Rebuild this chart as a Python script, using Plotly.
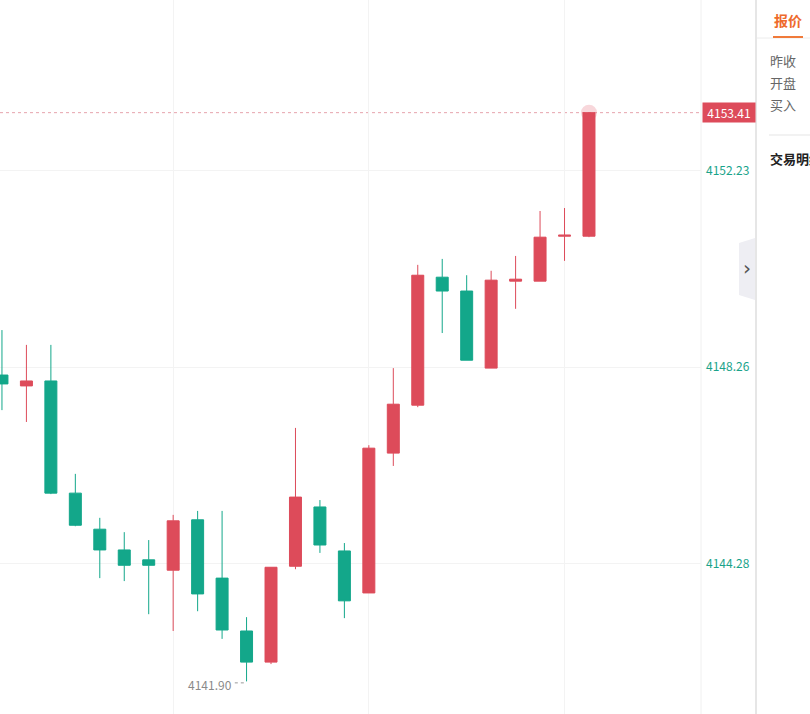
import plotly.graph_objects as go

# ---- data ----
idx = list(range(25))
opens = [4148.10, 4147.88, 4147.98, 4145.71, 4144.98, 4144.56, 4144.36, 4144.15, 4145.17, 4143.99,
         4142.92, 4142.29, 4144.23, 4145.43, 4144.54, 4143.69, 4146.52, 4147.49, 4150.08, 4149.80,
         4148.24, 4150.00, 4150.00, 4150.91, 4150.91]
highs = [4149.01, 4148.71, 4148.71, 4146.10, 4145.21, 4144.92, 4144.76, 4145.27, 4145.35, 4145.35,
         4143.20, 4144.21, 4147.03, 4145.57, 4144.70, 4146.68, 4148.24, 4150.33, 4150.45, 4150.12,
         4150.21, 4150.51, 4151.42, 4151.48, 4153.41]
lows = [4147.39, 4147.15, 4145.69, 4145.04, 4143.99, 4143.93, 4143.26, 4142.92, 4143.32, 4142.76,
        4141.90, 4142.25, 4144.17, 4144.50, 4143.18, 4143.69, 4146.26, 4147.45, 4148.95, 4148.40,
        4148.24, 4149.44, 4150.00, 4150.41, 4150.89]
closes = [4147.92, 4147.98, 4145.71, 4145.06, 4144.56, 4144.25, 4144.25, 4145.15, 4143.67, 4142.94,
          4142.29, 4144.21, 4145.63, 4144.66, 4143.53, 4146.62, 4147.51, 4150.12, 4149.80, 4148.40,
          4150.02, 4150.04, 4150.89, 4150.93, 4153.41]
tick_vals = [4144.28, 4148.26, 4152.23]
tick_text = ["4144.28", "4148.26", "4152.23"]
last_price = 4153.41
low_price = 4141.90
low_idx = 10
grid_x = [7, 15, 23]
panel_tab = "报价"
panel_rows = ["昨收", "开盘", "买入"]
panel_section = "交易明细"

RED = "#dd4b5a"
GREEN = "#13a78a"
TEAL = "#1aa38a"

W, H = 810, 714
PLOT_R = 701


def px(x):
    return x / PLOT_R


def py(y):
    return 1 - y / H


fig = go.Figure()
fig.add_trace(go.Candlestick(
    x=idx, open=opens, high=highs, low=lows, close=closes,
    increasing=dict(line=dict(color=RED, width=1), fillcolor=RED),
    decreasing=dict(line=dict(color=GREEN, width=1), fillcolor=GREEN),
    whiskerwidth=0, hoverinfo="skip", showlegend=False,
))
# glow on the latest price
fig.add_trace(go.Scatter(
    x=[idx[-1]], y=[last_price], mode="markers",
    marker=dict(size=16, color="rgba(221,75,90,0.22)", line=dict(width=0)),
    hoverinfo="skip", showlegend=False,
))

shapes = []
# last price dotted line
shapes.append(dict(type="line", xref="paper", yref="y", x0=0, x1=1, y0=last_price, y1=last_price,
                   line=dict(color="#e7a3ac", width=1, dash="dot"), layer="below"))
# low marker dotted line
shapes.append(dict(type="line", xref="x", yref="y", x0=low_idx - 0.48, x1=low_idx - 0.02,
                   y0=low_price - 0.03, y1=low_price - 0.03,
                   line=dict(color="#999999", width=1, dash="dot")))
# panel divider
shapes.append(dict(type="line", xref="paper", yref="paper", x0=px(756), x1=px(756), y0=0, y1=1,
                   line=dict(color="#e6e6e6", width=2)))
# right axis border
shapes.append(dict(type="line", xref="paper", yref="paper", x0=1, x1=1, y0=0, y1=1,
                   line=dict(color="#f0f0f0", width=1), layer="below"))
# panel header lines
shapes.append(dict(type="line", xref="paper", yref="paper", x0=px(757), x1=px(812), y0=py(38), y1=py(38),
                   line=dict(color="#ececec", width=1)))
shapes.append(dict(type="line", xref="paper", yref="paper", x0=px(773), x1=px(803), y0=py(37), y1=py(37),
                   line=dict(color="#f07a3a", width=2)))
shapes.append(dict(type="line", xref="paper", yref="paper", x0=px(769), x1=px(812), y0=py(135), y1=py(135),
                   line=dict(color="#e5e5e5", width=1)))
# collapse button
shapes.append(dict(type="path", xref="paper", yref="paper",
                   path=f"M {px(739)} {py(243)} L {px(755)} {py(238)} L {px(755)} {py(300)} L {px(739)} {py(295)} Z",
                   fillcolor="#eeeef3", line=dict(width=0)))

annotations = []
annotations.append(dict(xref="paper", yref="y", x=1, y=last_price, xanchor="left", yanchor="middle",
                        xshift=1, text=f"{last_price:.2f}", showarrow=False, bgcolor=RED,
                        font=dict(color="white", size=12, family="Noto Sans CJK SC"),
                        borderpad=1, width=50, align="center"))
annotations.append(dict(xref="x", yref="y", x=low_idx - 0.5, y=low_price, xanchor="right", yanchor="middle",
                        yshift=-3, text=f"{low_price:.2f}", showarrow=False,
                        font=dict(color="#8a8a8a", size=12, family="Noto Sans CJK SC")))
annotations.append(dict(xref="paper", yref="paper", x=px(788), y=py(20), xanchor="center", yanchor="middle",
                        text=f"<b>{panel_tab}</b>", showarrow=False,
                        font=dict(color="#ee6a2c", size=14, family="Noto Sans CJK SC")))
for i, t in enumerate(panel_rows):
    annotations.append(dict(xref="paper", yref="paper", x=px(768), y=py(60 + 22 * i), xanchor="left",
                            yanchor="middle", text=t, showarrow=False,
                            font=dict(color="#666666", size=13, family="Noto Sans CJK SC")))
annotations.append(dict(xref="paper", yref="paper", x=px(768), y=py(158), xanchor="left", yanchor="middle",
                        text=f"<b>{panel_section}</b>", showarrow=False,
                        font=dict(color="#222222", size=13, family="Noto Sans CJK SC")))
annotations.append(dict(xref="paper", yref="paper", x=px(747), y=py(268), xanchor="center", yanchor="middle",
                        text="›", showarrow=False,
                        font=dict(color="#555555", size=20, family="DejaVu Sans")))

fig.update_layout(
    width=W, height=H,
    margin=dict(l=0, r=W - PLOT_R, t=0, b=0),
    paper_bgcolor="white", plot_bgcolor="white",
    showlegend=False,
    shapes=shapes, annotations=annotations,
    xaxis=dict(range=[-0.08, 28.58], rangeslider=dict(visible=False), tickvals=grid_x,
               showticklabels=False, showgrid=True, gridcolor="#f3f3f3", gridwidth=1,
               zeroline=False, showline=False, ticks=""),
    yaxis=dict(range=[4141.24, 4155.69], side="right", tickvals=tick_vals, ticktext=tick_text,
               showgrid=True, gridcolor="#f3f3f3", zeroline=False, showline=False, ticks="",
               tickfont=dict(color=TEAL, size=12, family="Noto Sans CJK SC"), ticklabelstandoff=4),
    hovermode=False,
)

fig.write_html("out.html")
